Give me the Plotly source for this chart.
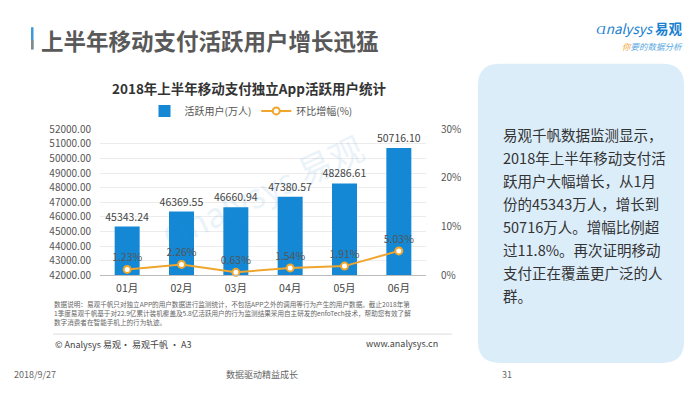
import plotly.graph_objects as go

W, H = 700, 394
months = ["01月", "02月", "03月", "04月", "05月", "06月"]
active_users = [45343.24, 46369.55, 46660.94, 47380.57, 48286.61, 50716.10]
growth_pct = [1.23, 2.26, 0.63, 1.54, 1.91, 5.03]
left_ticks = [42000 + 1000 * i for i in range(11)]
right_ticks = [0, 10, 20, 30]
right_tick_labels = ["0%", "10%", "20%", "30%"]

CJK = "Noto Sans CJK SC"

def px(x):
    return x / W

def py(y):
    return 1 - y / H

fig = go.Figure()
fig.add_trace(go.Bar(
    x=months, y=active_users, name="活跃用户(万人)",
    marker=dict(color="#1488d4", line=dict(width=0)),
    width=0.46,
    text=[f"{v:.2f}" for v in active_users], textposition="outside",
    constraintext="none",
    textfont=dict(family=CJK, size=10.5, color="#444"),
    cliponaxis=False,
))
fig.add_trace(go.Scatter(
    x=months, y=growth_pct, name="环比增幅(%)", yaxis="y2",
    mode="lines+markers+text",
    line=dict(color="#f0a52c", width=2),
    marker=dict(color="white", size=7, line=dict(color="#f0a52c", width=2)),
    text=[f"{v:.2f}%" for v in growth_pct], textposition="top center",
    textfont=dict(family=CJK, size=10.5, color="#555"),
    cliponaxis=False,
))

fig.update_layout(
    width=W, height=H, margin=dict(l=0, r=0, t=0, b=0),
    paper_bgcolor="white", plot_bgcolor="white",
    font=dict(family=CJK, color="#555"),
    xaxis=dict(domain=[px(100), px(426)], showline=True, linecolor="#bbb", linewidth=1,
               ticks="", tickfont=dict(size=10.5, color="#444"), anchor="y",
               ticklabelstandoff=3),
    yaxis=dict(domain=[py(278), py(126)], range=[42000, 52000], tickvals=left_ticks,
               tickformat=".2f", showgrid=True, gridcolor="#ececec", zeroline=False,
               tickfont=dict(size=10, color="#555"), ticks="", ticklabelstandoff=8),
    yaxis2=dict(overlaying="y", side="right", range=[0, 30], tickvals=right_ticks,
                ticktext=right_tick_labels, showgrid=False, zeroline=False,
                tickfont=dict(size=10, color="#555"), ticklabelstandoff=14),
    legend=dict(orientation="h", x=px(251), xanchor="center", y=py(107), yanchor="middle",
                font=dict(size=10, color="#555"), itemwidth=30, bgcolor="rgba(0,0,0,0)"),
    showlegend=True,
)

shapes = []
# header accent bar
shapes.append(dict(type="rect", xref="paper", yref="paper", x0=px(31), x1=px(33.5),
                   y0=py(43), y1=py(20), fillcolor="#3a9ad9", line=dict(width=0)))
shapes.append(dict(type="rect", xref="paper", yref="paper", x0=px(31), x1=px(33.5),
                   y0=py(43), y1=py(33), fillcolor="#888", line=dict(width=0)))
# right panel with rounded corners
x0, x1, y0, y1, r = 478, 684, 58, 369, 22
path = (f"M {px(x0+r)},{py(y0)} L {px(x1-r)},{py(y0)} "
        f"Q {px(x1)},{py(y0)} {px(x1)},{py(y0+r)} L {px(x1)},{py(y1-r)} "
        f"Q {px(x1)},{py(y1)} {px(x1-r)},{py(y1)} L {px(x0+r)},{py(y1)} "
        f"Q {px(x0)},{py(y1)} {px(x0)},{py(y1-r)} L {px(x0)},{py(y0+r)} "
        f"Q {px(x0)},{py(y0)} {px(x0+r)},{py(y0)} Z")
shapes.append(dict(type="path", xref="paper", yref="paper", path=path,
                   fillcolor="#dcedfa", line=dict(width=0), layer="below"))
# separator line above source
shapes.append(dict(type="line", xref="paper", yref="paper", x0=px(53), x1=px(452),
                   y0=py(339), y1=py(339), line=dict(color="#ddd", width=1)))
fig.update_layout(shapes=shapes)

ann = []
def add_text(text, x, y, size, color="#333", xanchor="left", yanchor="middle", bold=False, **kw):
    t = f"<b>{text}</b>" if bold else text
    ann.append(dict(text=t, x=px(x), y=py(y), xref="paper", yref="paper", showarrow=False,
                    xanchor=xanchor, yanchor=yanchor,
                    font=dict(family=CJK, size=size, color=color), **kw))

add_text("上半年移动支付活跃用户增长迅猛", 39, 33, 22.5, color="#595959", bold=True)
add_text("2018年上半年移动支付独立App活跃用户统计", 249, 83, 13.5, color="#333", xanchor="center", bold=True)

# logo
add_text("<i>Ɑnalysys</i> <b>易观</b>", 684, 21, 13.5, color="#1a7fd0", xanchor="right", borderpad=0)
add_text("<i><span style='color:#f0a030'>你</span>要的数据分析</i>", 684, 40, 8.5, color="#5aa8e0", xanchor="right", borderpad=0)

# watermark
ann.append(dict(text="Ɑnalysys 易观", x=px(262), y=py(190), xref="paper", yref="paper",
                showarrow=False, textangle=-25, opacity=0.1,
                font=dict(family=CJK, size=34, color="#3a8fd0")))

# panel text
panel_lines = ["易观千帆数据监测显示，", "2018年上半年移动支付活", "跃用户大幅增长，从1月",
               "份的45343万人，增长到", "50716万人。增幅比例超", "过11.8%。再次证明移动",
               "支付正在覆盖更广泛的人", "群。"]
for i, line in enumerate(panel_lines):
    add_text(line, 501, 131 + 24 * i, 14.5, color="#333")

# footnote
notes = ["数据说明：易观千帆只对独立APP的用户数据进行监测统计，不包括APP之外的调用等行为产生的用户数据。截止2018年第",
         "1季度易观千帆基于对22.9亿累计装机覆盖及5.8亿活跃用户的行为监测结果采用自主研发的enfoTech技术，帮助您有效了解",
         "数字消费者在智能手机上的行为轨迹。"]
for i, line in enumerate(notes):
    add_text(line, 53, 308 + 9 * i, 6.6, color="#666", borderpad=0)
add_text("© Analysys 易观· 易观千帆 · A3", 53, 350, 9, color="#444")
add_text("www.analysys.cn", 440, 349, 9, color="#444", xanchor="right")

# footer
add_text("2018/9/27", 12, 381, 9, color="#666")
add_text("数据驱动精益成长", 262, 381, 9, color="#666", xanchor="center")
add_text("31", 514, 381, 9, color="#666", xanchor="right")

fig.update_layout(annotations=ann)
fig.write_html("out.html", config={"displayModeBar": False},
               post_script="document.body.style.margin='0';document.body.style.overflow='hidden';")
